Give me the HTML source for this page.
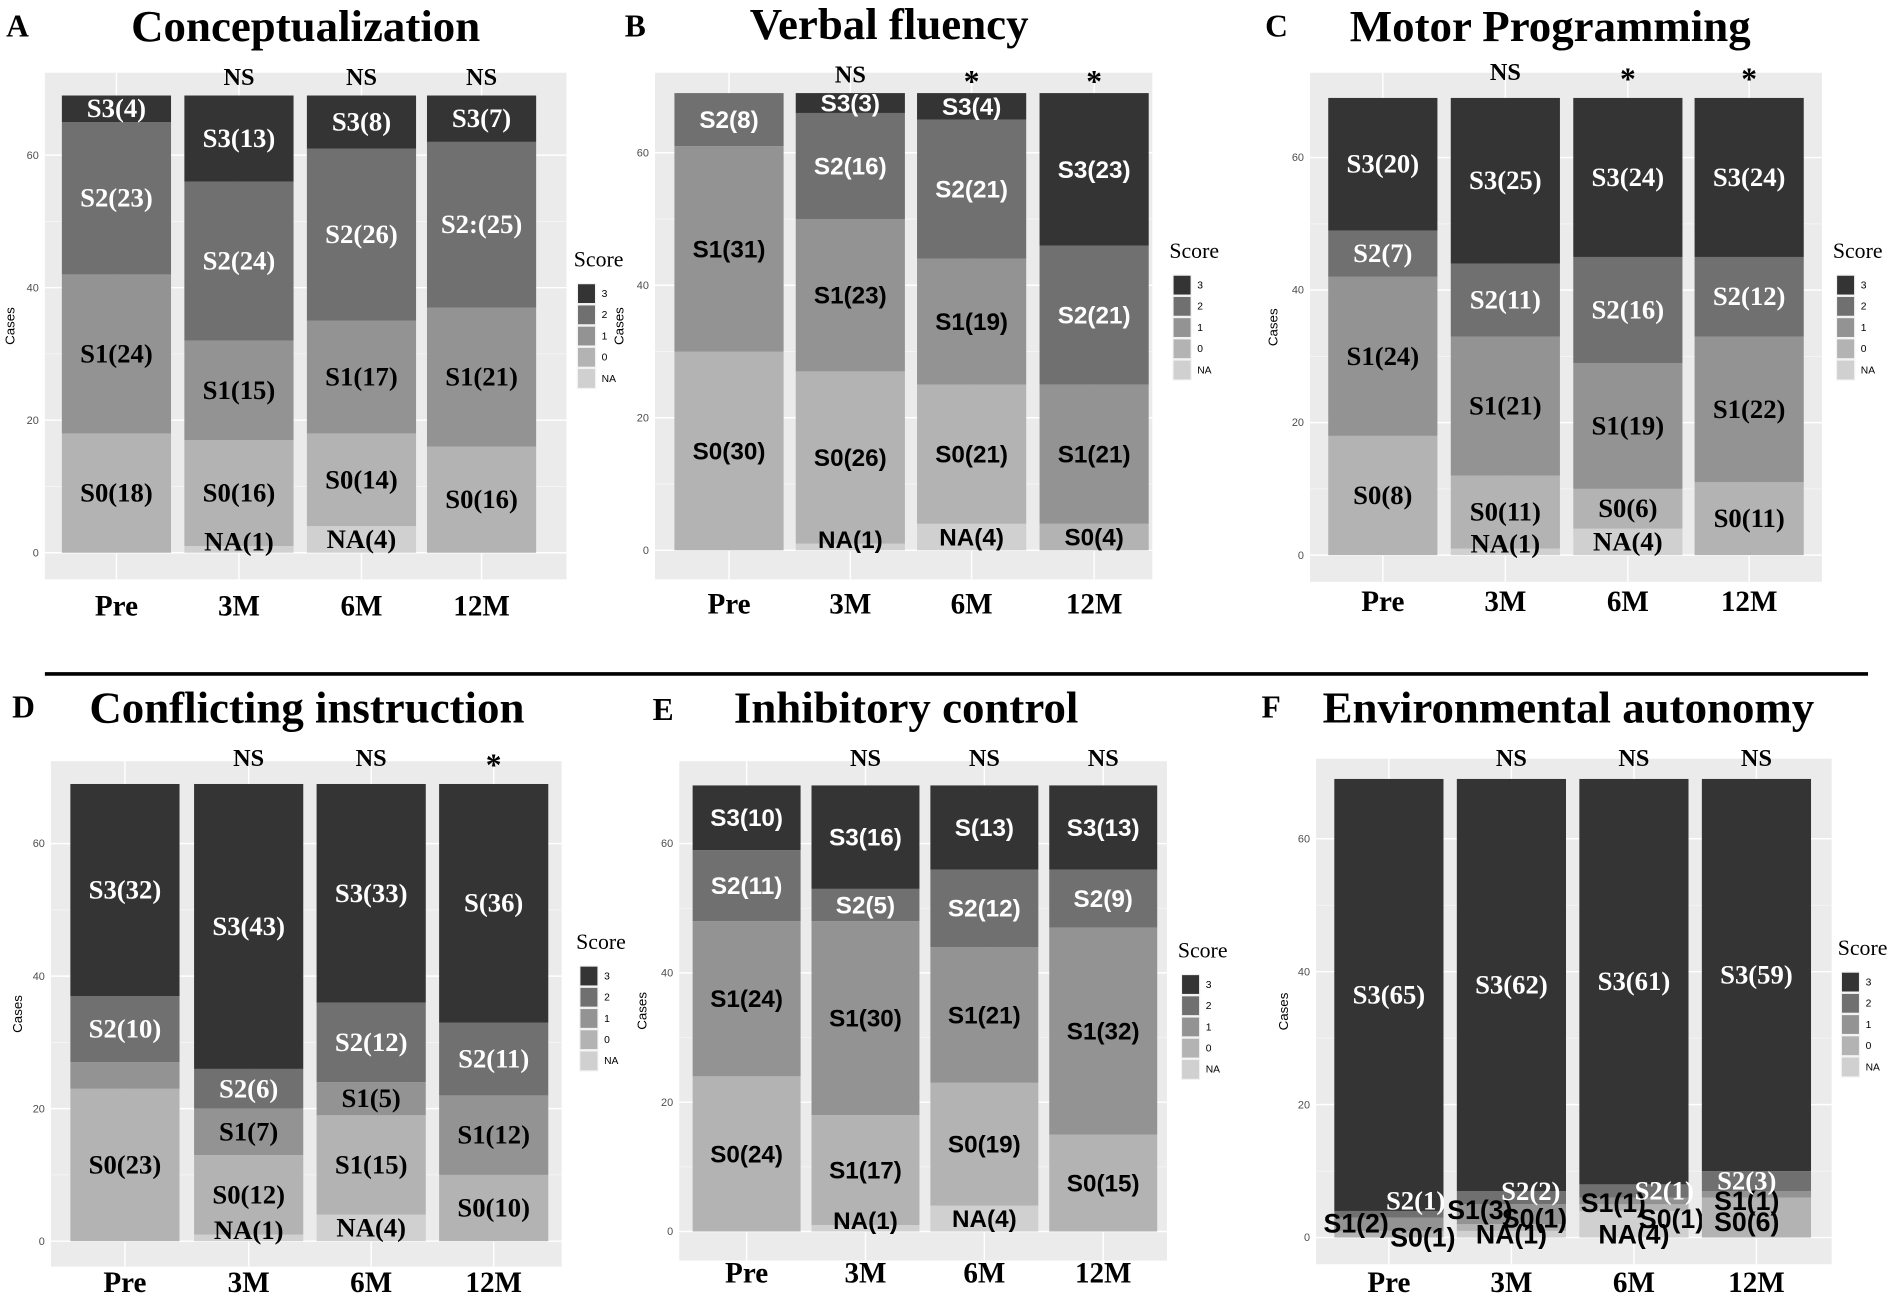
<!DOCTYPE html>
<html><head><meta charset="utf-8"><style>
html,body{margin:0;padding:0;background:#fff;}
svg{display:block;}
</style></head><body>
<svg id="fig" xmlns="http://www.w3.org/2000/svg" width="1902" height="1303" viewBox="0 0 1568 1075" preserveAspectRatio="none">
<line x1="37" y1="556" x2="1540" y2="556" stroke="#000" stroke-width="3"/>
</svg>
<script>
const cats=['Pre','3M','6M','12M'];
// Panel A
const aNA=[0,1,4,0], aS0=[18,16,14,16], aS1=[24,15,17,21], aS2=[23,24,26,25], aS3=[4,13,8,7];
const aLab=[['','S0(18)','S1(24)','S2(23)','S3(4)'],['NA(1)','S0(16)','S1(15)','S2(24)','S3(13)'],['NA(4)','S0(14)','S1(17)','S2(26)','S3(8)'],['','S0(16)','S1(21)','S2:(25)','S3(7)']];
const aSig=['','NS','NS','NS'];
// Panel B
const bNA=[0,1,4,0], bS0=[30,26,21,4], bS1=[31,23,19,21], bS2=[8,16,21,21], bS3=[0,3,4,23];
const bLab=[['','S0(30)','S1(31)','S2(8)',''],['NA(1)','S0(26)','S1(23)','S2(16)','S3(3)'],['NA(4)','S0(21)','S1(19)','S2(21)','S3(4)'],['','S0(4)','S1(21)','S2(21)','S3(23)']];
const bSig=['','NS','*','*'];
// Panel C
const cNA=[0,1,4,0], cS0=[18,11,6,11], cS1=[24,21,19,22], cS2=[7,11,16,12], cS3=[20,25,24,24];
const cLab=[['','S0(8)','S1(24)','S2(7)','S3(20)'],['NA(1)','S0(11)','S1(21)','S2(11)','S3(25)'],['NA(4)','S0(6)','S1(19)','S2(16)','S3(24)'],['','S0(11)','S1(22)','S2(12)','S3(24)']];
const cSig=['','NS','*','*'];
// Panel D
const dNA=[0,1,4,0], dS0=[23,12,15,10], dS1=[4,7,5,12], dS2=[10,6,12,11], dS3=[32,43,33,36];
const dLab=[['','S0(23)','','S2(10)','S3(32)'],['NA(1)','S0(12)','S1(7)','S2(6)','S3(43)'],['NA(4)','S1(15)','S1(5)','S2(12)','S3(33)'],['','S0(10)','S1(12)','S2(11)','S(36)']];
const dSig=['','NS','NS','*'];
// Panel E
const eNA=[0,1,4,0], eS0=[24,17,19,15], eS1=[24,30,21,32], eS2=[11,5,12,9], eS3=[10,16,13,13];
const eLab=[['','S0(24)','S1(24)','S2(11)','S3(10)'],['NA(1)','S1(17)','S1(30)','S2(5)','S3(16)'],['NA(4)','S0(19)','S1(21)','S2(12)','S(13)'],['','S0(15)','S1(32)','S2(9)','S3(13)']];
const eSig=['','NS','NS','NS'];
// Panel F
const fNA=[0,1,4,0], fS0=[1,1,1,6], fS1=[2,3,1,1], fS2=[1,2,2,3], fS3=[65,62,61,59];
const fLab=[['','S0(1)','S1(2)','S2(1)','S3(65)'],['NA(1)','S0(1)','S1(3)','S2(2)','S3(62)'],['NA(4)','S0(1)','S1(1)','S2(1)','S3(61)'],['','S0(6)','S1(1)','S2(3)','S3(59)']];
const fSig=['','NS','NS','NS'];
const yTicks=[0,20,40,60];

const NS='http://www.w3.org/2000/svg';
const svg=document.getElementById('fig');
const colors=['#d0d0d0','#b3b3b3','#939393','#707070','#343434'];
const txtCol=['#000','#000','#000','#fff','#fff'];
const legLabs=['3','2','1','0','NA'];
function mk(tag,attrs,parent){const e=document.createElementNS(NS,tag);for(const k in attrs)e.setAttribute(k,attrs[k]);(parent||svg).appendChild(e);return e;}

const panels=[
 {id:'a',letter:'A',title:'Conceptualization',lx:5,ly:30,tx:252,ty:34,bg:[37,60,467,478],y0:456,y60:128,bars:[51,152,253,352],bw:90,leg:[476,220],cx:12,serif:true,sigY:70,xlY:508,series:[aNA,aS0,aS1,aS2,aS3],lab:aLab,sig:aSig},
 {id:'b',letter:'B',title:'Verbal fluency',lx:515,ly:30,tx:733,ty:32,bg:[540,60,950,478],y0:454,y60:126,bars:[556,656,756,857],bw:90,leg:[967,213],cx:514,serif:false,sigY:68,xlY:506,series:[bNA,bS0,bS1,bS2,bS3],lab:bLab,sig:bSig},
 {id:'c',letter:'C',title:'Motor Programming',lx:1043,ly:30,tx:1278,ty:34,bg:[1080,60,1502,480],y0:458,y60:130,bars:[1095,1196,1297,1397],bw:90,leg:[1514,213],cx:1053,serif:true,sigY:66,xlY:504,series:[cNA,cS0,cS1,cS2,cS3],lab:cLab,sig:cSig},
 {id:'d',letter:'D',title:'Conflicting instruction',lx:10,ly:592,tx:253,ty:596,bg:[42,628,463,1045],y0:1024,y60:696,bars:[58,160,261,362],bw:90,leg:[478,783],cx:18,serif:true,sigY:632,xlY:1066,series:[dNA,dS0,dS1,dS2,dS3],lab:dLab,sig:dSig},
 {id:'e',letter:'E',title:'Inhibitory control',lx:538,ly:594,tx:747,ty:596,bg:[560,628,962,1040],y0:1016,y60:696,bars:[571,669,767,865],bw:89,leg:[974,790],cx:533,serif:false,sigY:632,xlY:1058,series:[eNA,eS0,eS1,eS2,eS3],lab:eLab,sig:eSig},
 {id:'f',letter:'F',title:'Environmental autonomy',lx:1040,ly:592,tx:1293,ty:596,bg:[1085,626,1510,1043],y0:1021,y60:692,bars:[1100,1201,1302,1403],bw:90,leg:[1518,788],cx:1062,serif:true,sigY:632,xlY:1066,series:[fNA,fS0,fS1,fS2,fS3],lab:fLab,sig:fSig}
];
// label offsets for tiny segments in panel F (style only)
const fOff=[[[0,0],[28,3],[-27,0],[22,-11],[0,0]],[[0,7],[19,-7],[-26,-3],[16,-5],[0,0]],[[0,9],[31,10],[-17,2],[25,0],[0,0]],[[0,0],[-8,4],[-8,6],[-8,0],[0,0]]];

panels.forEach(p=>{
  const g=mk('g',{});
  
  
  const yS=v=>p.y0-(p.y0-p.y60)*v/60;
  const serifF='"Liberation Serif", serif', sansF='"Liberation Sans", sans-serif';
  const let_=mk('text',{x:p.lx,y:p.ly,'font-family':serifF,'font-weight':'bold','font-size':26,fill:'#000'},g);let_.textContent=p.letter;
  
  const t=mk('text',{x:p.tx,y:p.ty,'text-anchor':'middle','font-family':serifF,'font-weight':'bold','font-size':37,fill:'#000'},g);t.textContent=p.title;
  
  const bg=mk('rect',{x:p.bg[0],y:p.bg[1],width:p.bg[2]-p.bg[0],height:p.bg[3]-p.bg[1],fill:'#ebebeb'},g);
  
  for(let v=10;v<=60;v+=20){mk('line',{x1:p.bg[0],x2:p.bg[2],y1:yS(v),y2:yS(v),stroke:'#f7f7f7','stroke-width':0.6},g);}
  yTicks.forEach(v=>{
    const gl=mk('line',{x1:p.bg[0],x2:p.bg[2],y1:yS(v),y2:yS(v),stroke:'#fff','stroke-width':1.2},g);
    
    const tl=mk('text',{x:p.bg[0]-5,y:yS(v)+3,'text-anchor':'end','font-family':sansF,'font-size':9,fill:'#4d4d4d'},g);tl.textContent=v;
    
  });
  const ca=mk('text',{x:p.cx,y:(p.bg[1]+p.bg[3])/2,'text-anchor':'middle','font-family':sansF,'font-size':11,fill:'#000',transform:`rotate(-90 ${p.cx} ${(p.bg[1]+p.bg[3])/2})`},g);ca.textContent='Cases';
  
  cats.forEach((c,i)=>{
    const x=p.bars[i], cxm=x+p.bw/2;
    mk('line',{x1:cxm,x2:cxm,y1:p.bg[1],y2:p.bg[3],stroke:'#fff','stroke-width':1.2},g);
    let acc=0;
    p.series.forEach((s,k)=>{
      const v=s[i]; if(v<=0)return;
      const r=mk('rect',{x:x,y:yS(acc+v),width:p.bw,height:yS(acc)-yS(acc+v),fill:colors[k]},g);
      
      acc+=v;
    });
    acc=0;
    p.series.forEach((s,k)=>{
      const v=s[i]; const lbl=p.lab[i][k];
      if(lbl){
        let ly=(yS(acc)+yS(acc+v))/2+7, lx=cxm;
        if(k===0&&v<=1) ly=yS(0)-2;
        let fam=p.serif?serifF:sansF;
        if(p.id==='f'){lx+=fOff[i][k][0];ly+=fOff[i][k][1]; fam=k>=3?serifF:sansF;}
        const tt=mk('text',{x:lx,y:ly,'text-anchor':'middle','font-family':fam,'font-weight':'bold','font-size':p.serif?22:20,fill:txtCol[k]},g);
        tt.textContent=lbl;
        
      }
      acc+=v;
    });
    const xl=mk('text',{x:cxm,y:p.xlY,'text-anchor':'middle','font-family':serifF,'font-weight':'bold','font-size':24,fill:'#000'},g);xl.textContent=c;
    
    if(p.sig[i]){
      const sg=mk('text',{x:cxm,y:p.sig[i]==='*'?p.sigY+8:p.sigY,'text-anchor':'middle','font-family':serifF,'font-weight':'bold','font-size':p.sig[i]==='*'?26:20,fill:'#000'},g);sg.textContent=p.sig[i];
      
    }
  });
  const lg=mk('g',{},g);
  
  const st=mk('text',{x:p.leg[0]-3,y:p.leg[1],'font-family':serifF,'font-size':18,fill:'#000'},lg);st.textContent='Score';
  for(let j=0;j<5;j++){
    const ky=p.leg[1]+14+j*17.5;
    const kr=mk('rect',{x:p.leg[0],y:ky,width:15,height:16.5,fill:colors[4-j],stroke:'#f2f2f2','stroke-width':1},lg);
    
    const kt=mk('text',{x:p.leg[0]+20,y:ky+11,'font-family':sansF,'font-size':8.5,fill:'#000'},lg);kt.textContent=legLabs[j];
  }
});
</script>
</body></html>
